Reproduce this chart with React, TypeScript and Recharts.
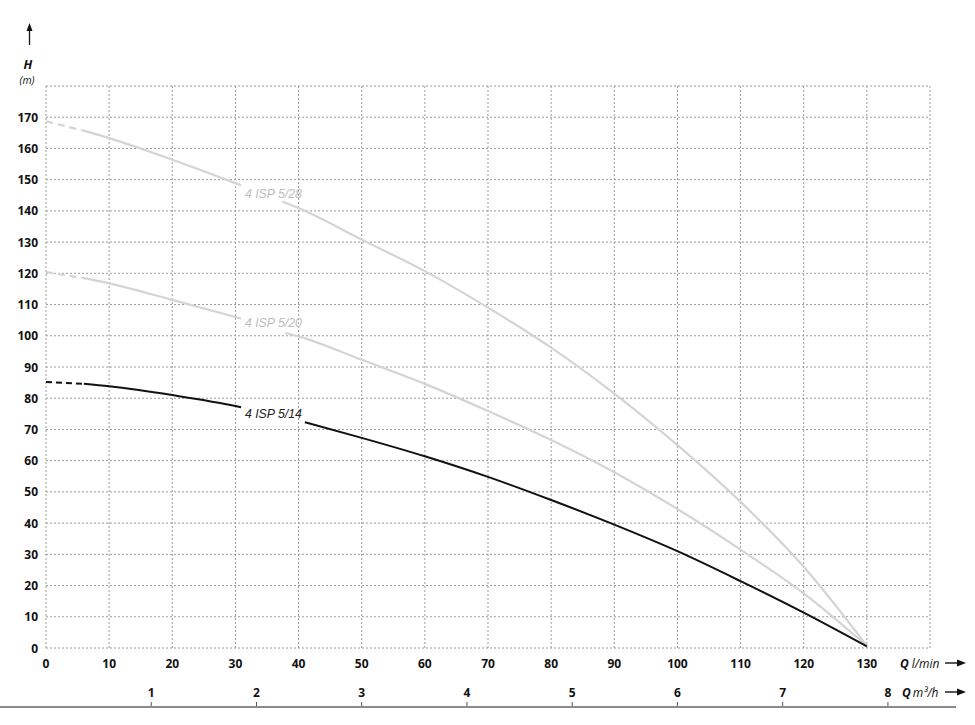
import React from "react";
import { LineChart, Line, XAxis, YAxis, CartesianGrid, ReferenceDot } from "recharts";

// Flow (l/min) and head (m) readings per pump curve, split where the curve is dashed / interrupted by its label
const q528Dash = [0, 6.5];
const h528Dash = [168.7, 165.4];
const q528A = [6.5, 10, 20, 30, 30.9];
const h528A = [165.4, 163.3, 156.4, 148.9, 148.2];
const q528B = [37.4, 40, 50, 60, 70, 80, 90, 100, 110, 120, 130];
const h528B = [143, 140.9, 130.8, 120.7, 109, 96.2, 81.5, 65, 46.8, 26, 0.7];

const q520Dash = [0, 6.5];
const h520Dash = [120.4, 118.3];
const q520A = [6.5, 10, 20, 30, 30.9];
const h520A = [118.3, 116.8, 111.5, 106, 105.5];
const q520B = [37.9, 40, 50, 60, 70, 80, 90, 100, 110, 120, 130];
const h520B = [100.9, 99.8, 92.3, 84.6, 75.9, 66.6, 56.3, 44.5, 31.5, 17.5, 0.7];

const q514Dash = [0, 6];
const h514Dash = [85.2, 84.6];
const q514A = [6, 10, 20, 30, 30.9];
const h514A = [84.6, 83.8, 81, 77.5, 77.1];
const q514B = [41, 50, 60, 70, 80, 90, 100, 110, 120, 130];
const h514B = [72.3, 67.3, 61.4, 54.8, 47.4, 39.5, 31, 21.4, 11.3, 0.5];

const curveNames = ["4 ISP 5/28", "4 ISP 5/20", "4 ISP 5/14"];
const labelQ = [31.5, 31.5, 31.5];
const labelH = [145.5, 104.2, 75];

const qTicks = [0, 10, 20, 30, 40, 50, 60, 70, 80, 90, 100, 110, 120, 130, 140];
const hTicks = [0, 10, 20, 30, 40, 50, 60, 70, 80, 90, 100, 110, 120, 130, 140, 150, 160, 170, 180];
const m3Ticks = [1, 2, 3, 4, 5, 6, 7, 8];
const m3Domain = [0, 8.4];

const zip = (q: number[], h: number[]) => q.map((v, i) => ({ q: v, h: h[i] }));

const GRAY = "#d4d4d4";
const LABEL_GRAY = "#bdbdbd";
const BLACK = "#111";
const TICK_FONT = "'Open Sans', sans-serif";

const segments = [
  { data: zip(q528Dash, h528Dash), color: GRAY, dash: "7 5", w: 2.2 },
  { data: zip(q528A, h528A), color: GRAY, dash: undefined, w: 2.2 },
  { data: zip(q528B, h528B), color: GRAY, dash: undefined, w: 2.2 },
  { data: zip(q520Dash, h520Dash), color: GRAY, dash: "7 5", w: 2.2 },
  { data: zip(q520A, h520A), color: GRAY, dash: undefined, w: 2.2 },
  { data: zip(q520B, h520B), color: GRAY, dash: undefined, w: 2.2 },
  { data: zip(q514Dash, h514Dash), color: BLACK, dash: "6 4", w: 2 },
  { data: zip(q514A, h514A), color: BLACK, dash: undefined, w: 2 },
  { data: zip(q514B, h514B), color: BLACK, dash: undefined, w: 2 },
];
const labelColors = [LABEL_GRAY, LABEL_GRAY, "#222"];

// invisible helper series so the m³/h axis gets a domain
const m3Helper = m3Domain.map((m) => ({ m, h: null as number | null }));

const QTick = (props: any) => {
  const { x, y, payload } = props;
  if (payload.value === 140) return null;
  return (
    <text
      x={x}
      y={y + 15}
      textAnchor="middle"
      dominantBaseline="central"
      fontFamily={TICK_FONT}
      fontWeight="bold"
      fontSize={12}
      fill="#111"
    >
      {payload.value}
    </text>
  );
};

const HTick = (props: any) => {
  const { x, y, payload } = props;
  if (payload.value === 180) return null;
  return (
    <text
      x={x}
      y={y}
      textAnchor="end"
      dominantBaseline="central"
      fontFamily={TICK_FONT}
      fontWeight="bold"
      fontSize={12}
      fill="#111"
    >
      {payload.value}
    </text>
  );
};

const M3Tick = (props: any) => {
  const { x, y, payload } = props;
  return (
    <g>
      <line x1={x} x2={x} y1={y - 5} y2={y} stroke="#555" strokeWidth={1} />
      <text
        x={x}
        y={y - 15}
        textAnchor="middle"
        dominantBaseline="central"
        fontFamily={TICK_FONT}
        fontWeight="bold"
        fontSize={12}
        fill="#111"
      >
        {payload.value}
      </text>
    </g>
  );
};

const makeLabel = (text: string, color: string) => (props: any) => {
  const vb = props.viewBox || {};
  const cx = vb.cx !== undefined ? vb.cx : vb.x;
  const cy = vb.cy !== undefined ? vb.cy : vb.y;
  return (
    <text
      x={cx}
      y={cy}
      textAnchor="start"
      dominantBaseline="central"
      fontFamily="'Liberation Sans', Arial, sans-serif"
      fontStyle="italic"
      fontSize={12.5}
      fill={color}
      textLength={57}
      lengthAdjust="spacingAndGlyphs"
    >
      {text}
    </text>
  );
};

export default function App() {
  return (
    <div style={{ position: "absolute", left: 0, top: 0, width: 975, height: 725, background: "#fff" }}>
      <LineChart width={975} height={725} margin={{ top: 86, right: 45, bottom: 0, left: 0 }}>
        <CartesianGrid xAxisId={0} stroke="#9a9a9a" strokeDasharray="2 2" strokeWidth={1} />
        <XAxis
          xAxisId={0}
          dataKey="q"
          type="number"
          domain={[0, 140]}
          ticks={qTicks}
          interval={0}
          axisLine={false}
          tickLine={false}
          tickSize={0}
          tickMargin={0}
          height={59}
          tick={<QTick />}
        />
        <XAxis
          xAxisId={1}
          dataKey="m"
          type="number"
          domain={m3Domain}
          ticks={m3Ticks}
          interval={0}
          axisLine={false}
          tickLine={false}
          tickSize={0}
          tickMargin={0}
          height={18}
          tick={<M3Tick />}
        />
        <YAxis
          type="number"
          domain={[0, 180]}
          ticks={hTicks}
          interval={0}
          axisLine={false}
          tickLine={false}
          tickSize={0}
          tickMargin={8}
          width={46}
          tick={<HTick />}
        />
        <Line
          xAxisId={1}
          data={m3Helper}
          dataKey="h"
          stroke="none"
          dot={false}
          activeDot={false}
          legendType="none"
          isAnimationActive={false}
        />
        {segments.map((s, i) => (
          <Line
            key={i}
            xAxisId={0}
            data={s.data}
            dataKey="h"
            type="monotone"
            stroke={s.color}
            strokeWidth={s.w}
            strokeDasharray={s.dash}
            dot={false}
            activeDot={false}
            isAnimationActive={false}
          />
        ))}
        {curveNames.map((n, i) => (
          <ReferenceDot
            key={n}
            xAxisId={0}
            x={labelQ[i]}
            y={labelH[i]}
            r={0}
            fill="none"
            stroke="none"
            label={makeLabel(n, labelColors[i])}
          />
        ))}
      </LineChart>
      <div style={{ position: "absolute", left: 0, top: 706, width: 956, height: 2, background: "#8a8a8a" }} />
      <svg
        width={975}
        height={725}
        style={{ position: "absolute", left: 0, top: 0, pointerEvents: "none" }}
      >
        <line x1={29.5} x2={29.5} y1={45} y2={29} stroke="#111" strokeWidth={1.3} />
        <polygon points="26.5,31 29.5,23 32.5,31" fill="#111" />
        <text x={28} y={64} textAnchor="middle" dominantBaseline="central" fontFamily="'Open Sans', sans-serif" fontWeight="bold" fontStyle="italic" fontSize={12.5} fill="#111">H</text>
        <text x={27} y={80} textAnchor="middle" dominantBaseline="central" fontFamily="'Open Sans', sans-serif" fontStyle="italic" fontSize={10.5} fill="#111">(m)</text>

        <text x={900} y={663} dominantBaseline="central" fontFamily="'Open Sans', sans-serif" fontSize={12} fill="#111">
          <tspan fontWeight="bold" fontStyle="italic">Q</tspan>
          <tspan fontStyle="italic" dx={3}>l/min</tspan>
        </text>
        <line x1={945} x2={960} y1={663} y2={663} stroke="#111" strokeWidth={1.4} />
        <polygon points="957,659.5 966,663 957,666.5" fill="#111" />

        <text x={902} y={692} dominantBaseline="central" fontFamily="'Open Sans', sans-serif" fontSize={12} fill="#111">
          <tspan fontWeight="bold" fontStyle="italic">Q</tspan>
          <tspan fontStyle="italic" dx={2}>m³/h</tspan>
        </text>
        <line x1={945} x2={960} y1={692} y2={692} stroke="#111" strokeWidth={1.4} />
        <polygon points="957,688.5 966,692 957,695.5" fill="#111" />
      </svg>
    </div>
  );
}
